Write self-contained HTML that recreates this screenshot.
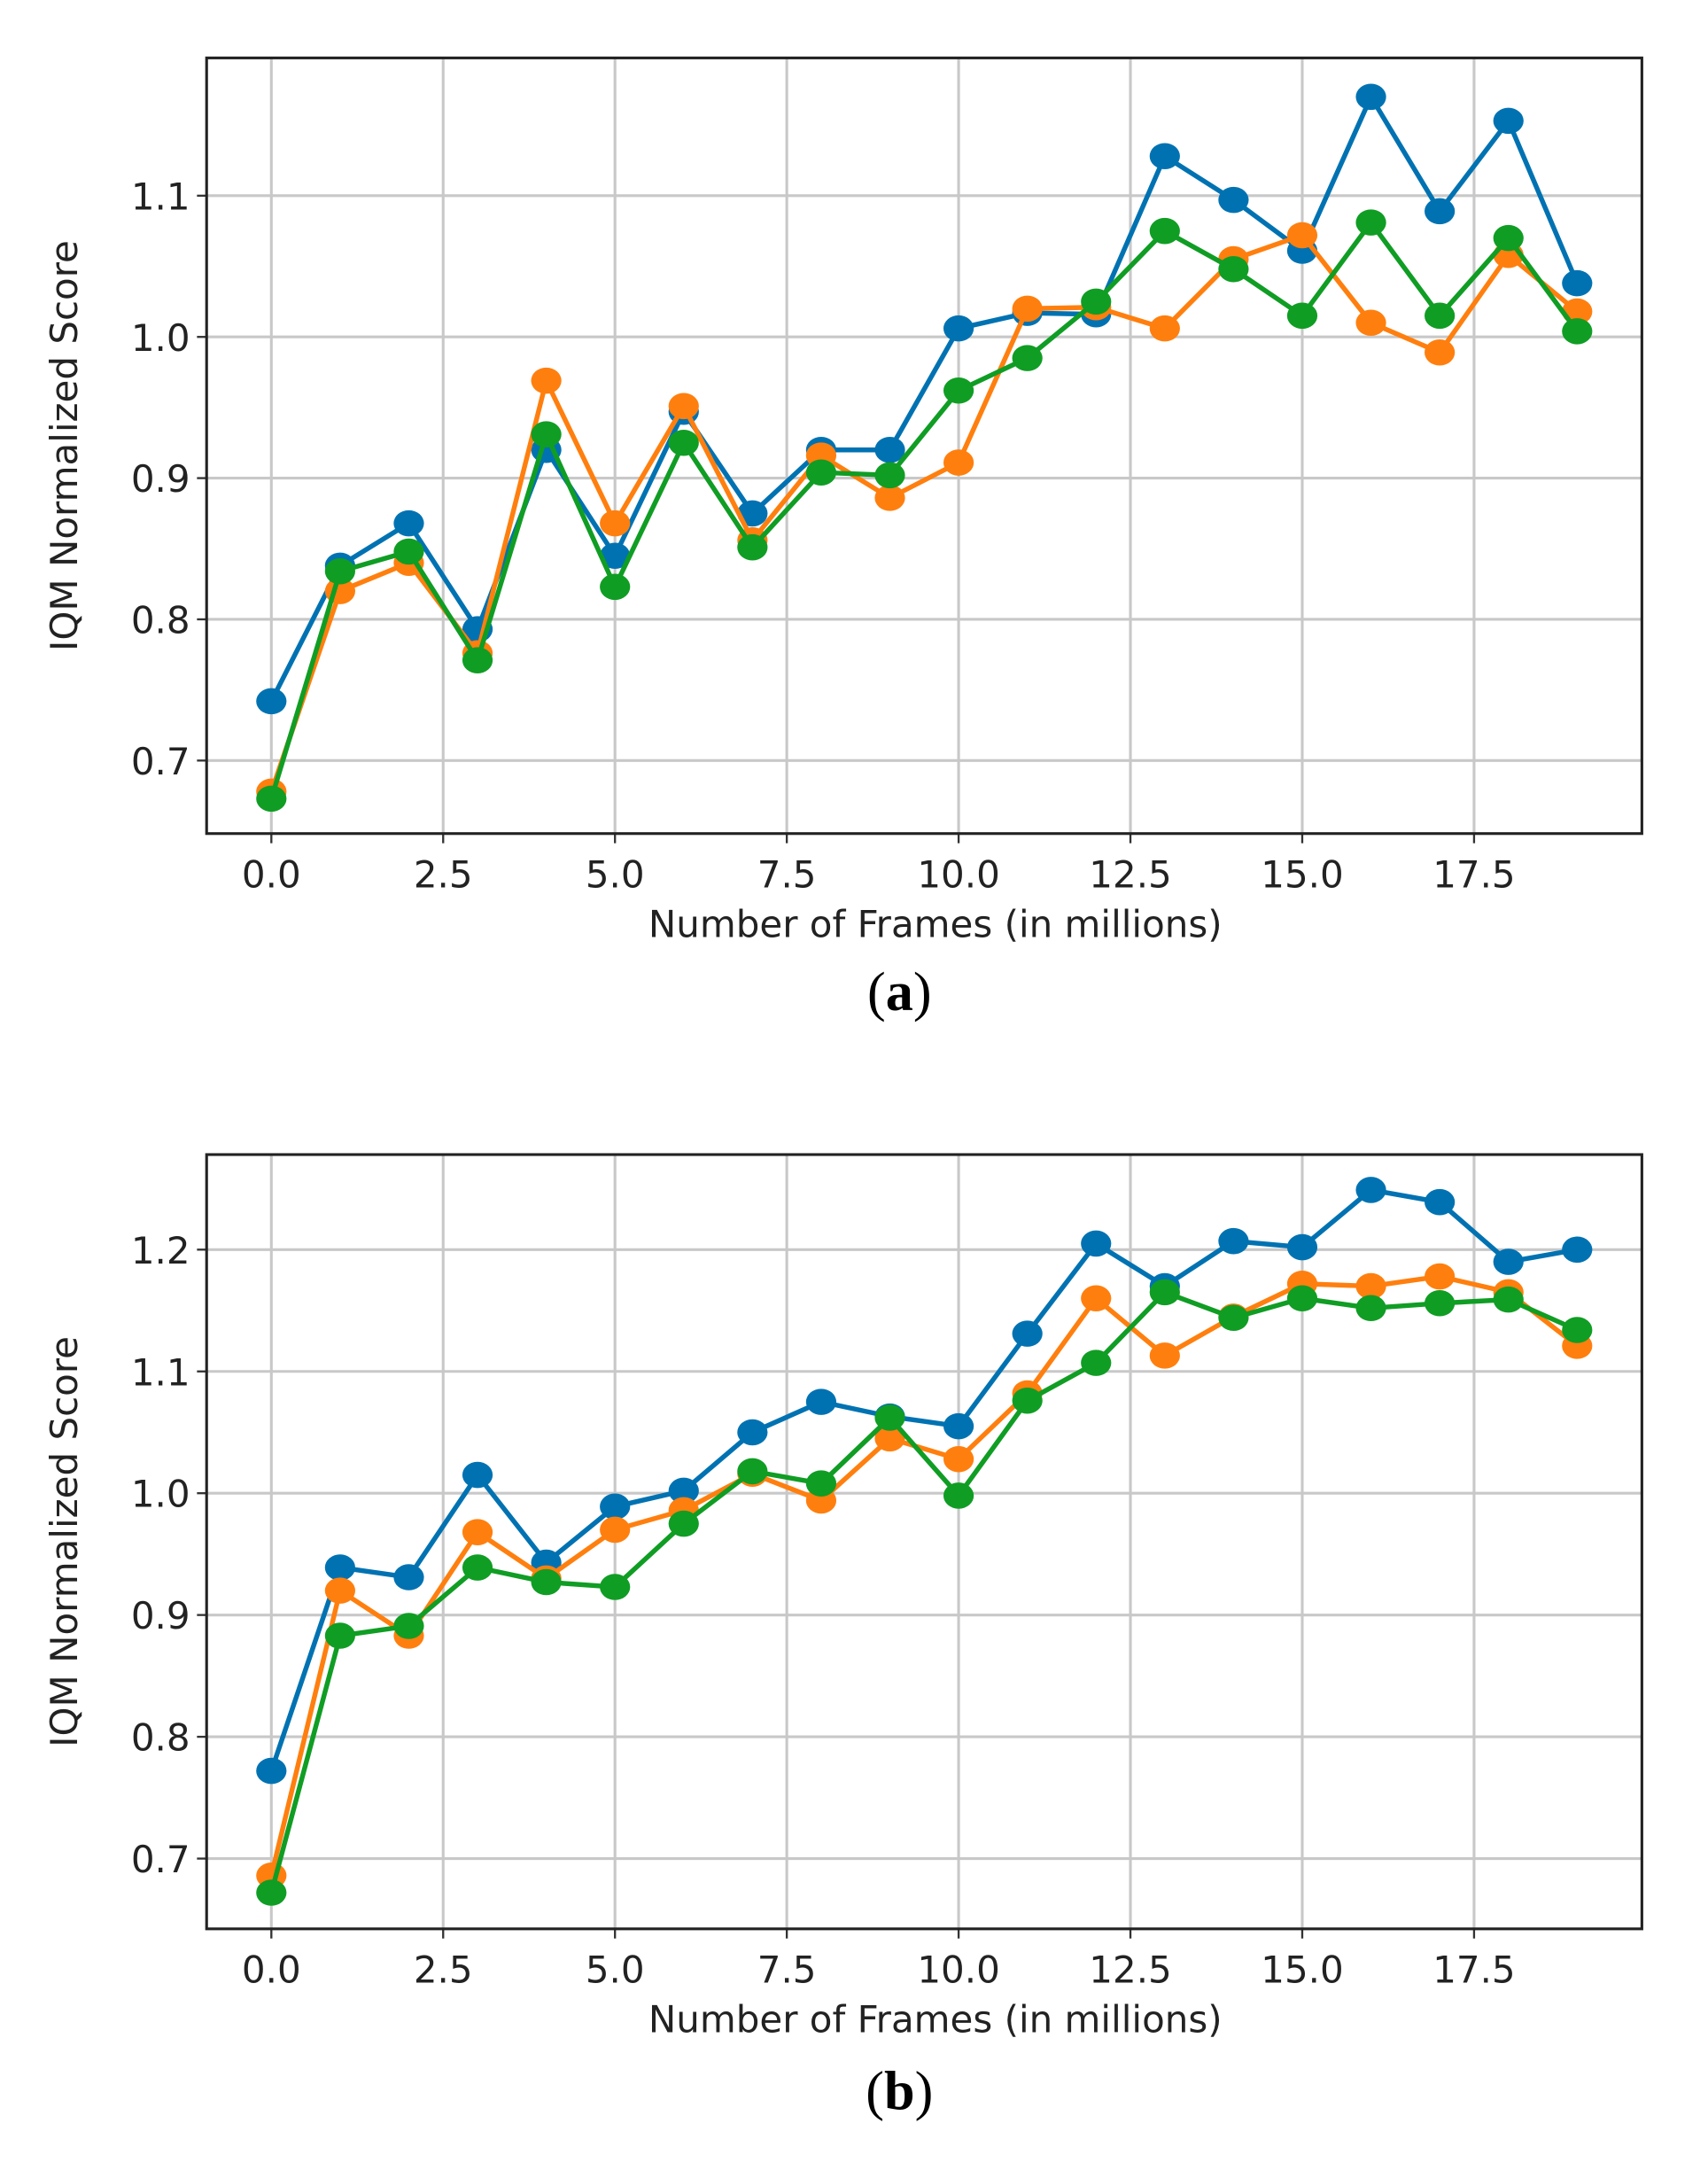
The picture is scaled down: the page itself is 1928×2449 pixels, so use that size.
<!DOCTYPE html>
<html><head><meta charset="utf-8"><style>
html,body{margin:0;padding:0;background:#fff;}
svg{display:block;}
text{font-family:"DejaVu Sans","Liberation Sans",sans-serif;fill:#222;}
</style></head><body>
<svg id="s" width="1928" height="2449" viewBox="0 0 1240 1575" xmlns="http://www.w3.org/2000/svg">
<text x="653" y="733" text-anchor="middle" style="font-family:'Liberation Serif',serif;font-size:40px;fill:#000">(<tspan font-weight="bold">a</tspan>)</text>
<text x="653" y="1531" text-anchor="middle" style="font-family:'Liberation Serif',serif;font-size:40px;fill:#000">(<tspan font-weight="bold">b</tspan>)</text>
</svg>
<script>
var NS="http://www.w3.org/2000/svg",s=document.getElementById("s");
function el(t,a,p){var e=document.createElementNS(NS,t);for(var k in a)e.setAttribute(k,a[k]);(p||s).appendChild(e);return e;}
function plot(top,bot,yv1,yp1,yv2,yp2,yt,data){
 var L=150,R=1192,x0=197,dx=(1145-197)/19;
 var ky=(yp2-yp1)/(yv2-yv1);
 function Y(v){return yp1+(v-yv1)*ky;}
 var xt=[0,2.5,5,7.5,10,12.5,15,17.5];
 xt.forEach(function(t){var x=x0+t*dx;el("line",{x1:x,x2:x,y1:top,y2:bot,stroke:"#c8c8c8","stroke-width":2});
  el("line",{x1:x,x2:x,y1:bot,y2:bot+7,stroke:"#333","stroke-width":1.5});
  var tx=el("text",{x:x,y:bot+39,"text-anchor":"middle","font-size":"27"});tx.textContent=t.toFixed(1);});
 yt.forEach(function(t){var y=Y(t);el("line",{x1:L,x2:R,y1:y,y2:y,stroke:"#c8c8c8","stroke-width":2});
  el("line",{x1:L-7,x2:L,y1:y,y2:y,stroke:"#333","stroke-width":1.5});
  var tx=el("text",{x:L-12,y:y+10,"text-anchor":"end","font-size":"27"});tx.textContent=t.toFixed(1);});
 el("rect",{x:L,y:top,width:R-L,height:bot-top,fill:"none",stroke:"#222","stroke-width":2});
 var xl=el("text",{x:(L+R)/2+8,y:bot+75,"text-anchor":"middle","font-size":"27"});xl.textContent="Number of Frames (in millions)";
 var cy=(top+bot)/2;var yl=el("text",{x:0,y:0,"text-anchor":"middle","font-size":"27",transform:"translate(56,"+cy+") rotate(-90)"});yl.textContent="IQM Normalized Score";
 var cols=["#0072b2","#ff7f0e","#109d24"];
 data.forEach(function(d,i){var pts=d.map(function(v,j){return (x0+j*dx)+","+Y(v);}).join(" ");
  el("polyline",{points:pts,fill:"none",stroke:cols[i],"stroke-width":3.5});
  d.forEach(function(v,j){el("ellipse",{cx:x0+j*dx,cy:Y(v),rx:11,ry:9.5,fill:cols[i]});});});
}
plot(42,605,1.1,142,0.7,552,[0.7,0.8,0.9,1.0,1.1],[
[0.742,0.838,0.868,0.793,0.92,0.845,0.947,0.875,0.92,0.92,1.006,1.017,1.016,1.128,1.097,1.061,1.17,1.089,1.153,1.038],
[0.678,0.82,0.84,0.776,0.969,0.868,0.951,0.856,0.916,0.886,0.911,1.02,1.021,1.006,1.055,1.072,1.01,0.989,1.058,1.018],
[0.673,0.834,0.848,0.771,0.931,0.823,0.925,0.851,0.904,0.902,0.962,0.985,1.025,1.075,1.048,1.015,1.081,1.015,1.07,1.004]]);
plot(838,1400,1.2,907,0.7,1349,[0.7,0.8,0.9,1.0,1.1,1.2],[
[0.772,0.939,0.931,1.015,0.943,0.989,1.002,1.05,1.075,1.063,1.055,1.131,1.205,1.17,1.207,1.202,1.249,1.239,1.19,1.2],
[0.686,0.92,0.883,0.968,0.93,0.97,0.986,1.016,0.994,1.045,1.028,1.082,1.16,1.113,1.145,1.172,1.17,1.178,1.165,1.121],
[0.672,0.883,0.891,0.939,0.927,0.923,0.975,1.018,1.008,1.062,0.998,1.076,1.107,1.165,1.144,1.16,1.152,1.156,1.159,1.134]]);
</script>
</body></html>
